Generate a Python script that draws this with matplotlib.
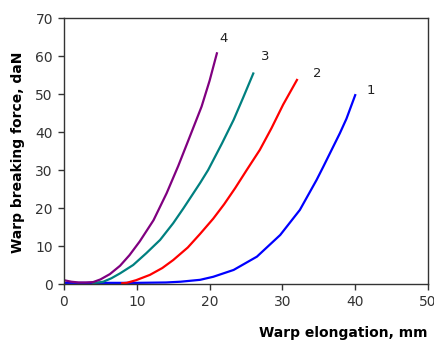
import matplotlib
matplotlib.use("Agg")
import matplotlib.pyplot as plt

# elongation (mm) / breaking force (daN) for the four warp samples
x1 = [0, 5, 10, 14, 16, 18.7, 20.5, 23.3, 26.5, 29.7, 32.4, 34.7, 35.6, 37.9, 38.8, 40]
y1 = [0.3, 0.3, 0.3, 0.4, 0.6, 1.1, 1.9, 3.7, 7.2, 12.9, 19.5, 27.4, 30.8, 39.7, 43.5, 49.7]

x2 = [8, 8.6, 9.9, 11.8, 13.5, 15, 17, 18.7, 20.5, 22, 23.5, 25.1, 26.9, 28.5, 30.1, 32]
y2 = [0.2, 0.3, 1, 2.4, 4.2, 6.3, 9.6, 13.2, 17.2, 21, 25.2, 30, 35.3, 41, 47.2, 53.7]

x3 = [4, 5.4, 6.5, 7.7, 9.5, 11.3, 13.2, 15, 16.4, 17.5, 18.7, 19.8, 21.7, 23.3, 24.6, 26]
y3 = [0.2, 0.6, 1.5, 2.8, 5, 8.1, 11.6, 16, 19.9, 23.1, 26.6, 30, 37, 43.2, 49, 55.4]

x4 = [0, 1, 2, 3, 4, 5, 6.3, 7.7, 9, 10.4, 12.3, 14.1, 15.7, 17.1, 18.9, 20, 21]
y4 = [1, 0.6, 0.4, 0.4, 0.5, 1.2, 2.6, 4.8, 7.6, 11.2, 16.8, 23.9, 31.1, 37.9, 46.7, 53.5, 60.7]

curve_labels = ["1", "2", "3", "4"]
label_x = [42.1, 34.8, 27.7, 21.9]
label_y = [51, 55.3, 59.8, 64.7]
colors = ["#0000FF", "#FF0000", "#008080", "#800080"]

fig = plt.figure(figsize=(4.35, 3.45), dpi=100)
ax = fig.add_axes([64 / 435, 61 / 345, 364 / 435, 266 / 345])

for xs, ys, c in zip([x1, x2, x3, x4], [y1, y2, y3, y4], colors):
    ax.plot(xs, ys, color=c, lw=1.6)

for t, lx, ly in zip(curve_labels, label_x, label_y):
    ax.text(lx, ly, t, fontsize=9.5, color="#222222", ha="center", va="center")

ax.set_xlim(0, 50)
ax.set_ylim(0, 70)
ax.set_xticks(range(0, 51, 10))
ax.set_yticks(range(0, 71, 10))
ax.tick_params(direction="out", length=4, width=1, colors="#333333", labelsize=10, pad=4)
for s in ax.spines.values():
    s.set_color("#333333")
    s.set_linewidth(1)

fig.text(428 / 435, 1 - 333 / 345, "Warp elongation, mm", ha="right", va="center",
         fontsize=10, fontweight="bold")
fig.text(18 / 435, 1 - 152 / 345, "Warp breaking force, daN", ha="center", va="center",
         rotation=90, fontsize=10, fontweight="bold")

fig.savefig("out.png", dpi=100)
